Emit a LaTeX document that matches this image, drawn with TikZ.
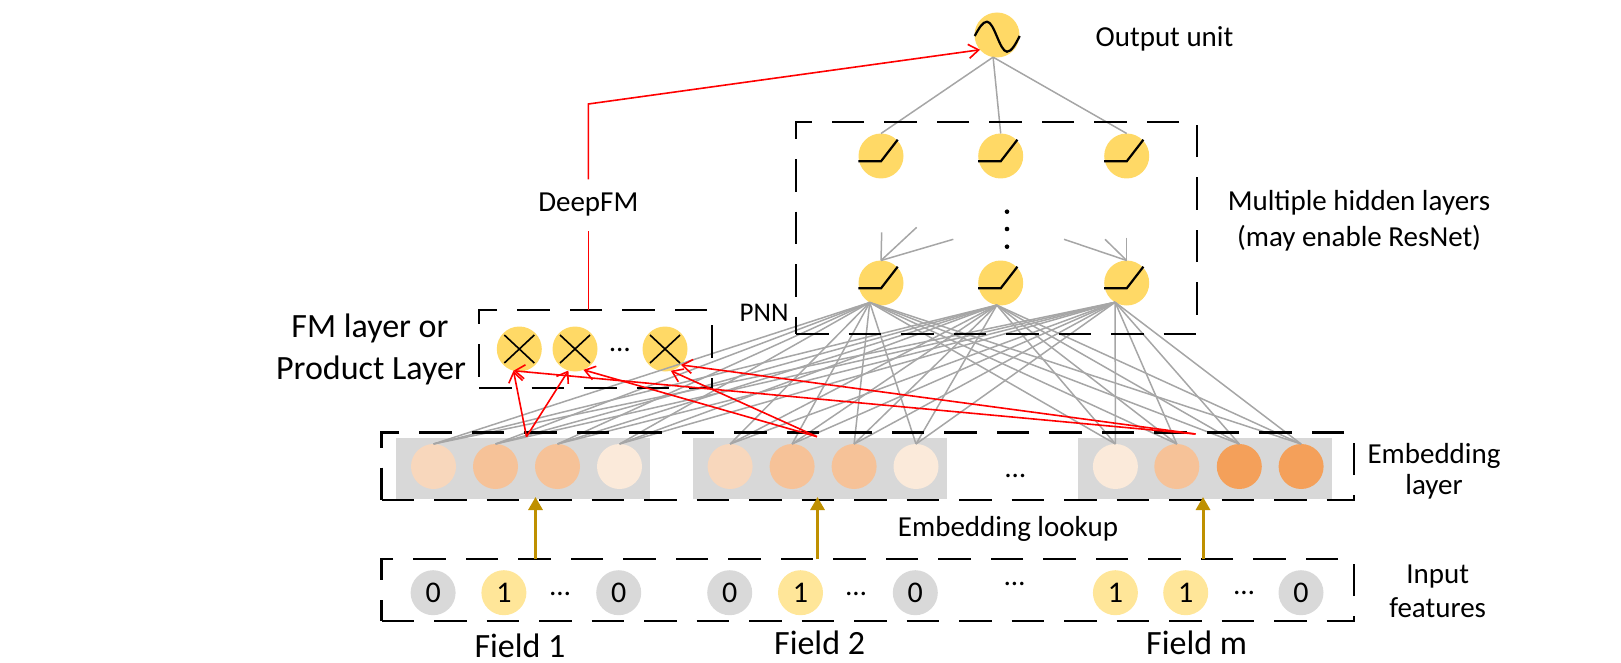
\documentclass[tikz,border=0pt]{standalone}
\usepackage{fontspec}
\setmainfont{Carlito}
\usetikzlibrary{arrows.meta}
\definecolor{unity}{HTML}{FFD966}
\definecolor{iny}{HTML}{FFE699}
\definecolor{cgray}{HTML}{D9D9D9}
\definecolor{rectgray}{HTML}{D8D8D8}
\definecolor{linegray}{HTML}{A6A6A6}
\definecolor{goldc}{HTML}{BF9000}
\definecolor{evl}{HTML}{FBEADA}
\definecolor{el}{HTML}{F8D7BC}
\definecolor{em}{HTML}{F6C298}
\definecolor{ed}{HTML}{F4A05A}
\definecolor{rred}{HTML}{FF0000}
\begin{document}
\begin{tikzpicture}[x=1pt,y=-1pt,
 dashbox/.style={draw=black, line width=2.2pt, dash pattern=on 32.5pt off 20pt, inner sep=0pt, outer sep=0pt},
 grect/.style={fill=rectgray, inner sep=0pt, outer sep=0pt, minimum height=61pt},
 unit/.style={circle, fill=unity, minimum size=45pt, inner sep=0pt, outer sep=0pt},
 embc/.style={circle, minimum size=45pt, inner sep=0pt, outer sep=0pt},
 inc/.style={circle, minimum size=45pt, inner sep=0pt, outer sep=0pt, font=\fontsize{30}{36}\selectfont},
 gline/.style={draw=linegray, line width=1.5pt},
 rline/.style={draw=rred, line width=1.6pt},
 rarr/.style={rline, -{Straight Barb[length=10pt,width=14pt]}},
 garr/.style={draw=goldc, line width=3pt, -{Triangle[length=13pt,width=14pt]}},
 act/.style={draw=black, line width=2.2pt},
 xl/.style={draw=black, line width=1.6pt},
 lbl/.style={font=\fontsize{29}{35}\selectfont, inner sep=0pt},
 big/.style={font=\fontsize{34}{40}\selectfont, inner sep=0pt},
 pnnl/.style={font=\fontsize{27}{32}\selectfont, inner sep=0pt}
]
\useasboundingbox (0,0) rectangle (1621,663);

% group rectangles
\node[grect, minimum width=254pt] (g1) at (523,468) {};
\node[grect, minimum width=253.6pt] (g2) at (820.2,468) {};
\node[grect, minimum width=254.2pt] (g3) at (1205,468) {};

% embedding circles
\foreach \i/\x/\c in {1/433.5/el, 2/495.5/em, 3/557.5/em, 4/619.5/evl,
  5/730.1/el, 6/792.1/em, 7/854.1/em, 8/916.0/evl,
  9/1115.4/evl, 10/1176.8/em, 11/1239.3/ed, 12/1301.1/ed}
  \node[embc, fill=\c] (e\i) at (\x,466.5) {};

% hidden units
\node[unit] (out) at (997,35) {};
\node[unit] (ht1) at (881,156) {};
\node[unit] (ht2) at (1000.7,156) {};
\node[unit] (ht3) at (1126.7,156) {};
\node[unit] (hb1) at (881,283) {};
\node[unit] (hb2) at (1000.7,283) {};
\node[unit] (hb3) at (1126.7,283) {};

% FM units
\node[unit] (fm1) at (519.3,349) {};
\node[unit] (fm2) at (575,349) {};
\node[unit] (fm3) at (665,349) {};

% input circles
\foreach \i/\x/\c/\t in {1/433.1/cgray/0, 2/503.9/iny/1, 3/618.7/cgray/0,
  4/729.7/cgray/0, 5/800.5/iny/1, 6/915.3/cgray/0,
  7/1115.4/iny/1, 8/1185.7/iny/1, 9/1301/cgray/0}
  \node[inc, fill=\c] (i\i) at (\x,592.7) {\t};

% connections hidden -> embedding
\foreach \i in {1,...,12} {
  \draw[gline] (hb1.-120) -- (e\i.north);
  \draw[gline] (hb2.-100) -- (e\i.north);
  \draw[gline] (hb3.-121) -- (e\i.north);
}
% output -> top hidden
\foreach \n in {ht1,ht2,ht3}
  \draw[gline] (out.-100) -- (\n.north);

% recurrent-looking gray lines
\coordinate (la1) at (881.7,232.3);
\coordinate (la2) at (916.7,227.3);
\coordinate (la3) at (953.3,239.3);
\coordinate (ra1) at (1126.7,237.7);
\coordinate (ra2) at (1105,239.3);
\coordinate (ra3) at (1064,239.3);
\foreach \c in {la1,la2,la3} \draw[gline] (\c) -- (hb1.north);
\foreach \c in {ra1,ra2,ra3} \draw[gline] (\c) -- (hb3.north);

% vertical dots
\fill (1007,211.7) circle (2.3pt);
\fill (1007,229) circle (2.3pt);
\fill (1007,246.7) circle (2.3pt);

% activation icons
\draw[act] ([shift={(-22.3,1)}]out.center) sin ++(12.3,-14.3) cos ++(10,15) sin ++(10,15) cos ++(12.7,-15.7);
\foreach \n in {ht1,ht2,ht3,hb1,hb2,hb3}
  \draw[act] ([shift={(-22.7,5.3)}]\n.center) -- ++(22.7,0) -- ++(16.7,-21.6);
\foreach \n in {fm1,fm2,fm3} {
  \draw[xl] ([shift={(-15,-14)}]\n.center) -- ++(30,28);
  \draw[xl] ([shift={(-15,14)}]\n.center) -- ++(30,-28);
}

% dashed boxes
\node[dashbox, minimum width=400.7pt, minimum height=211.7pt] (hidbox) at (996.35,228.15) {};
\node[dashbox, minimum width=232.7pt, minimum height=77.7pt] (fmbox) at (595.35,348.85) {};
\node[dashbox, minimum width=972.5pt, minimum height=67.5pt] (embbox) at (867.75,466.25) {};
\node[dashbox, minimum width=972.5pt, minimum height=61.7pt] (inbox) at (867.75,590.15) {};

% red product arrows
\coordinate (rA) at (526.5,436.7);
\coordinate (rB) at (817,436.7);
\coordinate (rC) at (1195.5,434);
\draw[rarr] (rA) -- (fm1.-105);
\draw[rarr] (rA) -- (fm2.-107);
\draw[rarr] (rC) -- (fm1.-105);
\draw[rarr] (rB) -- (fm2.-68);
\draw[rarr] (rB) -- (fm3.-75);
\draw[rarr] (rC) -- (fm3.-45);

% DeepFM path
\node[lbl, minimum height=51pt] (deepfm) at (588.3,205) {DeepFM};
\coordinate (dcorner) at (588.3,104);
\draw[rline] (deepfm |- fmbox.north) -- (deepfm);
\draw[rarr] (deepfm) -- (dcorner) -- (out.-139);

% golden lookup arrows
\coordinate (ga1s) at (535.5,559.3); \coordinate (ga1e) at (535.5,497);
\coordinate (ga2s) at (817.5,559.3); \coordinate (ga2e) at (817.5,497);
\coordinate (ga3s) at (1203,559.3);  \coordinate (ga3e) at (1203,497);
\draw[garr] (ga1s) -- (ga1e);
\draw[garr] (ga2s) -- (ga2e);
\draw[garr] (ga3s) -- (ga3e);

% ellipses
\node[lbl, anchor=base] (dfm) at (620,351) {…};
\node[lbl, anchor=base] (demb) at (1015.4,477) {…};
\node[lbl, anchor=base] (din1) at (560.2,595.5) {…};
\node[lbl, anchor=base] (din2) at (856,595.5) {…};
\node[lbl, anchor=base] (din3) at (1014.6,585.5) {…};
\node[lbl, anchor=base] (din4) at (1244,594) {…};

% labels
\node[lbl, anchor=base] (outlbl) at (1164.5,46.7) {Output unit};
\node[lbl, anchor=base] (hid1) at (1359,211) {Multiple hidden layers};
\node[lbl, anchor=base] (hid2) at (1359,246.7) {(may enable ResNet)};
\node[big, anchor=base] (fmA) at (370,337.3) {FM layer or};
\node[big, anchor=base] (fmB) at (371,379.3) {Product Layer};
\node[pnnl, anchor=base] (pnn) at (764,321.7) {PNN};
\node[lbl, anchor=base] (emb1) at (1434,463.3) {Embedding};
\node[lbl, anchor=base] (emb2) at (1434,494.3) {layer};
\node[lbl, anchor=base] (look) at (1008,536.7) {Embedding lookup};
\node[lbl, anchor=base] (in1) at (1437.7,583.3) {Input};
\node[lbl, anchor=base] (in2) at (1437.7,617.7) {features};
\node[big, anchor=base] (f1) at (520,657) {Field 1};
\node[big, anchor=base] (f2) at (819.6,654.5) {Field 2};
\node[big, anchor=base] (fm) at (1196.6,654.5) {Field m};
\end{tikzpicture}
\end{document}
